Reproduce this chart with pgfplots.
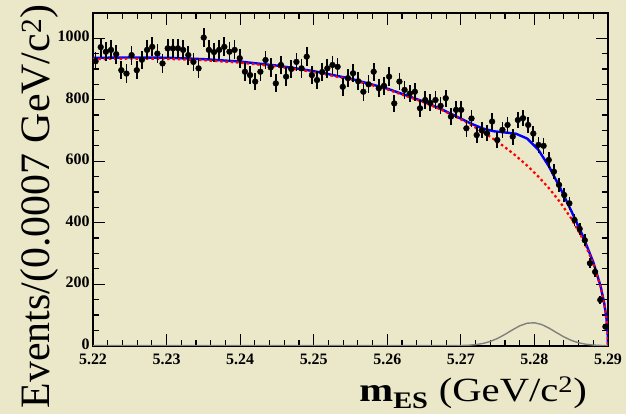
\documentclass[border=0pt]{standalone}
\usepackage{pgfplots}
\pgfplotsset{compat=1.18}
\usepackage{pgfplotstable}
\usepackage{fontspec}
\setmainfont{Liberation Serif}
\definecolor{bg}{RGB}{234,232,200}
\pgfplotstableread{
x y ex ey
5.22035 925 0.00035 30
5.22105 971 0.00035 31
5.22175 956 0.00035 31
5.22245 962 0.00035 31
5.22315 948 0.00035 31
5.22385 896 0.00035 30
5.22455 885 0.00035 30
5.22525 945 0.00035 31
5.22595 896 0.00035 30
5.22665 930 0.00035 30
5.22735 962 0.00035 31
5.22805 972 0.00035 31
5.22875 950 0.00035 31
5.22945 918 0.00035 30
5.23015 967 0.00035 31
5.23085 967 0.00035 31
5.23155 967 0.00035 31
5.23225 962 0.00035 31
5.23295 945 0.00035 31
5.23365 923 0.00035 30
5.23435 902 0.00035 30
5.23505 1002 0.00035 32
5.23575 962 0.00035 31
5.23645 955 0.00035 31
5.23715 962 0.00035 31
5.23785 972 0.00035 31
5.23855 956 0.00035 31
5.23925 962 0.00035 31
5.23995 935 0.00035 31
5.24065 891 0.00035 30
5.24135 880 0.00035 30
5.24205 859 0.00035 29
5.24275 891 0.00035 30
5.24345 929 0.00035 30
5.24415 905 0.00035 30
5.24485 853 0.00035 29
5.24555 913 0.00035 30
5.24625 875 0.00035 30
5.24695 900 0.00035 30
5.24765 923 0.00035 30
5.24835 902 0.00035 30
5.24905 940 0.00035 31
5.24975 880 0.00035 30
5.25045 864 0.00035 29
5.25115 890 0.00035 30
5.25185 902 0.00035 30
5.25255 913 0.00035 30
5.25325 907 0.00035 30
5.25395 842 0.00035 29
5.25465 870 0.00035 29
5.25535 886 0.00035 30
5.25605 860 0.00035 29
5.25675 826 0.00035 29
5.25745 850 0.00035 29
5.25815 891 0.00035 30
5.25885 837 0.00035 29
5.25955 845 0.00035 29
5.26025 875 0.00035 30
5.26095 788 0.00035 28
5.26165 859 0.00035 29
5.26235 832 0.00035 29
5.26305 820 0.00035 29
5.26375 826 0.00035 29
5.26445 772 0.00035 28
5.26515 799 0.00035 28
5.26585 790 0.00035 28
5.26655 799 0.00035 28
5.26725 780 0.00035 28
5.26795 805 0.00035 28
5.26865 745 0.00035 27
5.26935 767 0.00035 28
5.27005 767 0.00035 28
5.27075 707 0.00035 27
5.27145 739 0.00035 27
5.27215 685 0.00035 26
5.27285 700 0.00035 26
5.27355 691 0.00035 26
5.27425 729 0.00035 27
5.27495 669 0.00035 26
5.27565 702 0.00035 26
5.27635 718 0.00035 27
5.27705 680 0.00035 26
5.27775 734 0.00035 27
5.27845 740 0.00035 27
5.27915 718 0.00035 27
5.27985 690 0.00035 26
5.28055 653 0.00035 26
5.28125 650 0.00035 25
5.28195 604 0.00035 25
5.28265 566 0.00035 24
5.28335 523 0.00035 23
5.28405 490 0.00035 22
5.28475 463 0.00035 22
5.28545 409 0.00035 20
5.28615 380 0.00035 19
5.28685 343 0.00035 19
5.28755 268 0.00035 16
5.28825 240 0.00035 15
5.28895 149 0.00035 12
5.28965 62 0.00035 8
}\data

\begin{document}
\begin{tikzpicture}
\path[use as bounding box, fill=bg] (-93bp,-68.3bp) rectangle (533bp,345.7bp);
\begin{axis}[
  at={(0bp,0bp)}, anchor=south west,
  width=515bp, height=332.7bp, scale only axis,
  xmin=5.22, xmax=5.29, ymin=0, ymax=1082,
  xtick={5.22,5.23,5.24,5.25,5.26,5.27,5.28,5.29},
  ytick={0,200,400,600,800,1000},
  minor x tick num=4, minor y tick num=3,
  tick align=inside, tick pos=both,
  major tick length=12bp, minor tick length=6bp,
  axis line style={line width=1.7bp},
  every tick/.style={black, line width=1.2bp},
  scaled x ticks=false,
  /pgf/number format/assume math mode=true,
  xticklabel style={/pgf/number format/.cd, fixed, fixed zerofill, precision=2, /tikz/.cd, font=\fontsize{16}{16}\selectfont\bfseries, yshift=-5bp},
  yticklabel style={/pgf/number format/.cd, 1000 sep={}, /tikz/.cd, font=\fontsize{16}{16}\selectfont\bfseries, yshift=1.5bp},
]
\addplot[blue, line width=2.4bp] coordinates {
(5.22,936) (5.225,937.5) (5.23,936.5) (5.235,932) (5.24,924) (5.245,911) (5.25,893) (5.255,868.5) (5.26,836) (5.265,793.5) (5.2675,767.5) (5.27,738.5) (5.2715,721) (5.273,706.3) (5.2745,697.3) (5.276,693.5) (5.2775,689.3) (5.279,673.8) (5.2805,638.3) (5.282,582.1) (5.2835,513.0) (5.285,438.8) (5.2865,361.3) (5.288,271.9) (5.289,192.8) (5.2895,136.8) (5.2898,86.9) (5.28995,44) (5.29,0)};
\addplot[red, line width=2.2bp, dash pattern=on 2.5bp off 2.8bp] coordinates {
(5.22,932) (5.225,933.7) (5.23,932.7) (5.235,928.4) (5.24,920.4) (5.245,907.9) (5.25,890.1) (5.255,865.8) (5.26,833.5) (5.265,791.3) (5.2675,765.6) (5.27,736.1) (5.2715,716.3) (5.273,694.8) (5.2745,671.3) (5.276,645.5) (5.2775,617.2) (5.279,585.8) (5.2805,550.9) (5.282,511.5) (5.2835,466.6) (5.285,414.0) (5.2865,350.5) (5.288,268.1) (5.289,191.1) (5.2895,135.7) (5.2898,85.9) (5.28995,43) (5.29,0)};
\addplot[gray, line width=1.4bp] coordinates {
(5.22,0) (5.268,0) (5.27,0.56) (5.271,1.46) (5.272,3.43) (5.273,7.25) (5.274,13.8) (5.275,23.8) (5.276,36.8) (5.277,51.3) (5.278,64.5) (5.279,73.1) (5.28,74.6) (5.281,68.7) (5.282,57.0) (5.283,42.6) (5.284,28.7) (5.285,17.4) (5.286,9.5) (5.287,4.7) (5.288,2.1) (5.289,0.8) (5.29,0.3)};
\addplot[only marks, mark=*, mark size=2.9bp, black,
  error bars/.cd, x dir=both, x explicit, y dir=both, y explicit,
  error bar style={line width=1.7bp, black}, error mark=none]
  table[x=x, y=y, x error=ex, y error=ey] {\data};
\end{axis}
\node[rotate=90, anchor=base east, font=\fontsize{42}{42}\selectfont, inner sep=0pt] at (-43bp,341bp) {Events/(0.0007 GeV/c\textsuperscript{2})};
\node[anchor=base east, font=\fontsize{34}{34}\selectfont, inner sep=0pt] at (494bp,-56bp) {\scalebox{1.2}[1]{\textbf{m\textsubscript{ES}} (GeV/c\textsuperscript{2})}};
\end{tikzpicture}
\end{document}
